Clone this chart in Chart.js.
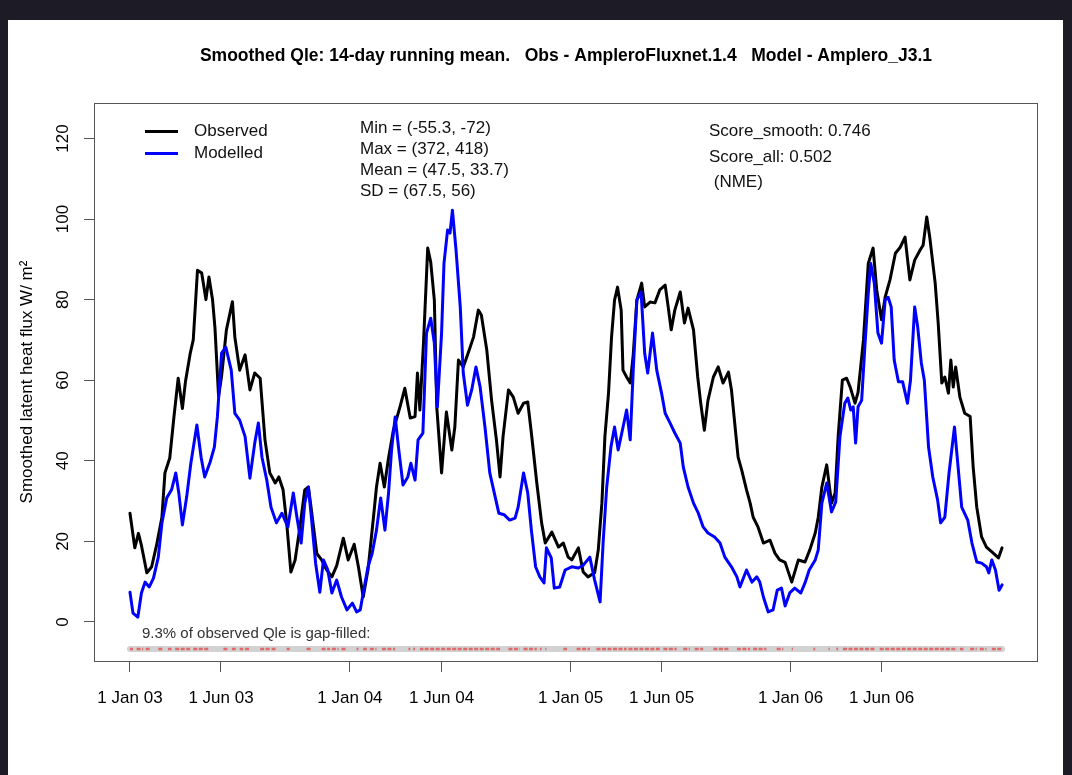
<!DOCTYPE html>
<html>
<head>
<meta charset="utf-8">
<script src="https://cdn.jsdelivr.net/npm/chart.js@4/dist/chart.umd.min.js"></script>
<style>
html, body { margin: 0; padding: 0; width: 1072px; height: 775px; overflow: hidden; background: #1d1b26; }
#wrap { position: absolute; left: 8px; top: 20px; width: 1055px; height: 755px; background: #fff; }
</style>
</head>
<body>
<div id="wrap"><canvas id="myChart" width="1055" height="755"></canvas></div>
<script>
// days since 1 Jan 2003
var tickDays = [0, 151, 365, 517, 731, 882, 1096, 1247];
var tickLabels = ["1 Jan 03", "1 Jun 03", "1 Jan 04", "1 Jun 04", "1 Jan 05", "1 Jun 05", "1 Jan 06", "1 Jun 06"];
var yTicks = [0, 20, 40, 60, 80, 100, 120];

var obsDays = [0, 8, 14, 19, 28, 36, 44, 53, 58, 66, 73, 80, 87, 92, 100, 105, 112, 119, 126, 131,
    137, 141, 147, 152, 160, 170, 174, 182, 191, 199, 207, 216, 224, 232, 241, 247, 254, 260, 267, 274,
    282, 290, 296, 301, 310, 318, 326, 335, 343, 354, 362, 372, 379, 387, 395, 404, 409, 415, 422, 429,
    437, 448, 456, 465, 473, 477, 481, 487, 494, 499, 505, 509, 517, 525, 534, 539, 545, 553, 561, 570,
    578, 583, 592, 600, 608, 614, 619, 628, 636, 644, 653, 660, 666, 675, 683, 689, 700, 711, 719, 727,
    733, 744, 752, 760, 771, 777, 783, 788, 794, 799, 804, 809, 815, 818, 824, 830, 835, 841, 849, 854,
    863, 871, 879, 888, 893, 898, 904, 913, 920, 926, 935, 942, 947, 953, 959, 968, 976, 984, 993, 998,
    1004, 1009, 1015, 1023, 1029, 1034, 1042, 1051, 1062, 1070, 1078, 1087, 1098, 1109, 1120, 1128, 1137, 1142, 1148, 1156,
    1164, 1170, 1175, 1182, 1189, 1195, 1203, 1208, 1217, 1225, 1233, 1239, 1247, 1253, 1261, 1270, 1278, 1286, 1294, 1302,
    1311, 1316, 1322, 1327, 1336, 1341, 1347, 1352, 1358, 1362, 1366, 1370, 1377, 1385, 1394, 1399, 1405, 1413, 1421, 1430,
    1441, 1447];
var observed = [27.0, 18.4, 22, 19, 12.2, 13.7, 19, 26, 37, 40.7, 51, 60.5, 53, 59.6, 66.7, 70, 87.3, 86.6, 80, 85.6,
    80, 73, 56, 61, 72.5, 79.5, 70.7, 62.5, 66.3, 57.6, 61.8, 60.5, 45.2, 37, 34.5, 36, 32.8, 24.6, 12.4, 15.4,
    23.6, 32.8, 33.5, 27.8, 17, 15.4, 13, 11.2, 14, 20.8, 15.4, 19.3, 13.7, 6.2, 13, 26, 33.5, 39.4, 33.5, 40.7,
    47.6, 53.4, 58, 50.6, 51, 61.8, 52.6, 69.2, 92.8, 89.3, 79.9, 53.4, 37, 52.1, 42.7, 48.4, 65, 63.3, 66.7, 70.7,
    77.4, 76.2, 67.5, 55, 45.2, 36, 46, 57.6, 55.8, 51.8, 54.3, 54.6, 46.9, 34.5, 24.6, 19.6, 22.3, 18.6, 19.6, 16.1,
    15.4, 18.4, 12.4, 11.2, 12.2, 17.9, 29.5, 46, 56.8, 70.7, 79.9, 83.1, 77.4, 62.5, 60.8, 59.3, 66.3, 79.9, 84.1, 78.2,
    79.4, 79.2, 82.4, 83.6, 78.2, 72.5, 77.4, 81.9, 74.2, 77.9, 72.5, 60.8, 54.3, 47.6, 55, 60.8, 63.3, 59.3, 62, 57.6,
    48.4, 40.9, 37.7, 32.8, 29.5, 26, 23.6, 19.6, 20.3, 17.1, 15.4, 14.8, 9.9, 15.4, 14.9, 17.9, 22.1, 26, 33.5, 39,
    29.5, 32, 46, 60, 60.5, 58.3, 54.3, 57, 70, 89, 92.8, 82.4, 75, 80.6, 84.9, 91.5, 93, 95.5, 84.9, 89.8,
    92.3, 93.5, 100.5, 95.5, 84.1, 74.2, 59.3, 60.8, 56.8, 65, 58.3, 63.3, 55.8, 51.8, 51, 38.5, 28.5, 21.1, 18.6, 17.4,
    15.9, 18.4];

var modDays = [0, 5, 13, 19, 25, 32, 39, 47, 53, 61, 69, 76, 81, 87, 94, 101, 111, 118, 124, 133,
    140, 145, 152, 159, 168, 174, 182, 191, 199, 207, 213, 219, 227, 234, 243, 252, 262, 271, 277, 284,
    290, 296, 301, 308, 315, 321, 328, 335, 343, 351, 360, 369, 376, 382, 387, 395, 402, 409, 416, 423,
    429, 434, 440, 446, 453, 461, 466, 473, 478, 486, 492, 499, 505, 510, 517, 521, 527, 531, 535, 541,
    548, 553, 560, 567, 574, 581, 589, 597, 606, 612, 621, 630, 639, 644, 653, 660, 666, 673, 680, 687,
    691, 699, 704, 713, 722, 733, 744, 752, 763, 771, 780, 785, 791, 798, 804, 810, 817, 824, 830, 835,
    841, 848, 854, 859, 867, 874, 882, 888, 896, 904, 913, 918, 926, 935, 943, 951, 959, 970, 979, 987,
    998, 1007, 1012, 1023, 1032, 1040, 1045, 1051, 1059, 1067, 1074, 1081, 1087, 1095, 1103, 1113, 1120, 1127, 1137, 1142,
    1148, 1156, 1164, 1171, 1178, 1186, 1191, 1196, 1200, 1204, 1208, 1214, 1219, 1225, 1229, 1235, 1241, 1247, 1253, 1258,
    1263, 1268, 1275, 1282, 1290, 1295, 1302, 1307, 1313, 1318, 1325, 1332, 1340, 1345, 1352, 1359, 1368, 1374, 1380, 1390,
    1397, 1405, 1413, 1421, 1425, 1430, 1436, 1442, 1447];
var modelled = [7.4, 2.2, 1.2, 7.2, 9.9, 8.7, 10.9, 16.1, 24.6, 30.8, 32.8, 37, 32, 24.1, 31, 39.4, 48.9, 40.9, 36, 39.7,
    43.4, 50.9, 66.7, 68.2, 62.5, 51.8, 50.1, 46, 35.7, 44.4, 49.4, 40.9, 35.2, 28.5, 24.6, 27, 23.6, 32, 26, 19.6,
    29.5, 33.5, 26, 14.6, 7.4, 15.4, 13, 7.2, 10.4, 6.2, 3, 4.7, 2.5, 3, 7.2, 13.7, 17.1, 22.8, 30.8, 22.8,
    32, 42.7, 50.9, 42.7, 34, 36, 39.4, 35.2, 45.2, 46.9, 71.7, 75.4, 69.2, 53.4, 71.7, 89, 97.3, 96.5, 102.2, 92.3,
    78.2, 61.8, 53.8, 57.6, 63.3, 58.3, 48.4, 37, 31, 27, 26.6, 25.3, 25.8, 28.5, 37, 32, 22.8, 13.7, 11.2, 9.7,
    18.4, 15.9, 8.4, 8.7, 12.9, 13.7, 13.4, 14.1, 16.1, 10.4, 5, 19.6, 33.5, 43.4, 48.4, 42.7, 47.6, 52.6, 45.2, 62.5,
    79.9, 81.9, 66.7, 61.8, 71.7, 62.5, 56.8, 51.8, 49.4, 46.9, 44.4, 38.5, 33.5, 29.5, 27, 23.6, 22.1, 21.1, 19.6, 16.1,
    13.7, 11.2, 8.7, 12.9, 9.9, 11.2, 9.9, 6.2, 2.5, 3, 7.9, 8.4, 4, 7.3, 8.4, 7.2, 9.7, 12.9, 15.4, 17.9,
    29.5, 34.5, 27.3, 29.8, 46, 54.3, 55.6, 52.6, 53.4, 44.4, 53.4, 55, 67.5, 81.6, 89, 84.1, 71.7, 69.2, 79.9, 80.6,
    78.2, 65, 59.6, 59.6, 54.3, 60, 78.2, 73.2, 64.3, 60, 43.4, 36, 30.3, 24.6, 26, 37, 48.4, 38.5, 28.5, 25.3,
    19.6, 14.9, 14.6, 13.7, 12.2, 15.4, 12.9, 7.9, 9.2];

// runs of gap-filled observations [first day, last day]
var gapRuns = [[0, 5], [11, 22], [26, 33], [47, 55], [63, 69], [75, 100], [105, 130], [155, 163], [169, 177], [182, 188],
    [191, 199], [216, 232], [235, 243], [260, 265], [293, 301], [318, 332], [335, 346], [351, 359], [376, 379], [387, 393],
    [398, 409], [418, 440], [462, 465], [470, 473], [481, 487], [489, 614], [628, 647], [653, 675], [680, 683], [689, 691],
    [719, 725], [741, 763], [774, 824], [827, 879], [885, 907], [918, 929], [937, 951], [968, 993], [1007, 1029], [1034, 1056],
    [1073, 1084], [1098, 1100], [1134, 1137], [1159, 1161], [1172, 1175], [1183, 1236], [1244, 1372], [1377, 1383], [1394, 1405], [1410, 1421],
    [1430, 1447]];
var gapRowY = -6.7;
var dataSpan = [0, 1447];

var statLines = ["Min = (-55.3, -72)", "Max = (372, 418)", "Mean = (47.5, 33.7)", "SD = (67.5, 56)"];
var scoreLines = ["Score_smooth: 0.746", "Score_all: 0.502", " (NME)"];

function toPoints(days, vals) {
    return days.map(function (d, i) { return { x: d, y: vals[i] }; });
}

var gapPoints = [];
gapRuns.forEach(function (r) {
    gapPoints.push({ x: r[0], y: gapRowY }, { x: r[1], y: gapRowY }, { x: r[1], y: null });
});

Chart.defaults.font.family = "'Liberation Sans', Arial, sans-serif";
Chart.defaults.color = "#000";

var notes = {
    id: "notes",
    afterDraw: function (chart) {
        var c = chart.ctx;
        var a = chart.chartArea;
        c.save();
        c.strokeStyle = "#555";
        c.lineWidth = 1;
        c.strokeRect(a.left + 0.5, a.top + 0.5, a.right - a.left - 1, a.bottom - a.top);

        // legend
        c.lineWidth = 3;
        c.strokeStyle = "#000";
        c.beginPath(); c.moveTo(137, 111.5); c.lineTo(170, 111.5); c.stroke();
        c.strokeStyle = "#0000ff";
        c.beginPath(); c.moveTo(137, 133.5); c.lineTo(170, 133.5); c.stroke();
        c.fillStyle = "#111";
        c.font = "17px 'Liberation Sans', Arial, sans-serif";
        c.textBaseline = "middle";
        c.textAlign = "left";
        c.fillText("Observed", 186, 111.5);
        c.fillText("Modelled", 186, 133.5);

        statLines.forEach(function (t, i) { c.fillText(t, 352, 108.5 + i * 20.8); });
        scoreLines.forEach(function (t, i) { c.fillText(t, 701, 111.5 + i * 25.5); });

        c.fillStyle = "#333";
        c.font = "15px 'Liberation Sans', Arial, sans-serif";
        c.fillText("9.3% of observed Qle is gap-filled:", 134, 613.5);
        c.restore();
    }
};

var ctx = document.getElementById("myChart");
var myChart = new Chart(ctx, {
    type: "line",
    data: {
        datasets: [{
            label: "Modelled",
            data: toPoints(modDays, modelled),
            borderColor: "#0000ff",
            borderWidth: 3,
        }, {
            label: "Observed",
            data: toPoints(obsDays, observed),
            borderColor: "#000000",
            borderWidth: 3,
        }, {
            label: "gap-filled",
            data: gapPoints,
            borderColor: "#e06a6a",
            borderWidth: 2.5,
            borderDash: [4, 1.5],
            borderCapStyle: "butt",
            spanGaps: false,
        }, {
            label: "band",
            data: [{ x: dataSpan[0], y: gapRowY }, { x: dataSpan[1], y: gapRowY }],
            borderColor: "#d2d2d2",
            borderWidth: 6,
        }, ],
    },
    options: {
        responsive: false,
        animation: false,
        elements: {
            point: { radius: 0 },
            line: { tension: 0, borderJoinStyle: "round", borderCapStyle: "round", fill: false },
        },
        layout: { padding: { left: 0, right: 25, top: 0, bottom: 0 } },
        plugins: {
            legend: { display: false },
            tooltip: { enabled: false },
            title: {
                display: true,
                fullSize: false,
                text: "Smoothed Qle: 14-day running mean.   Obs - AmpleroFluxnet.1.4   Model - Amplero_J3.1",
                font: { size: 17.5, weight: "bold" },
                color: "#000",
                padding: { top: 26, bottom: 36 },
            },
        },
        scales: {
            x: {
                type: "linear",
                min: -59.7,
                max: 1506.6,
                afterBuildTicks: function (s) { s.ticks = tickDays.map(function (v) { return { value: v }; }); },
                afterFit: function (s) { s.height = 114; },
                ticks: {
                    callback: function (v, i) { return tickLabels[i]; },
                    font: { size: 17 },
                    padding: 16,
                    maxRotation: 0,
                    autoSkip: false,
                    color: "#000",
                },
                grid: { drawOnChartArea: false, tickLength: 11, tickColor: "#555" },
                border: { display: false },
            },
            y: {
                type: "linear",
                min: -9.68,
                max: 128.8,
                afterBuildTicks: function (s) { s.ticks = yTicks.map(function (v) { return { value: v }; }); },
                afterFit: function (s) { s.width = 86; },
                ticks: {
                    font: { size: 17 },
                    minRotation: 90,
                    maxRotation: 90,
                    crossAlign: "center",
                    padding: 7,
                    autoSkip: false,
                    color: "#000",
                },
                grid: { drawOnChartArea: false, tickLength: 10, tickColor: "#555" },
                border: { display: false },
                title: {
                    display: true,
                    text: "Smoothed latent heat flux W/ m²",
                    font: { size: 17 },
                    color: "#000",
                    padding: { top: 9, bottom: 0 },
                },
            },
        },
    },
    plugins: [notes],
});
</script>
</body>
</html>
